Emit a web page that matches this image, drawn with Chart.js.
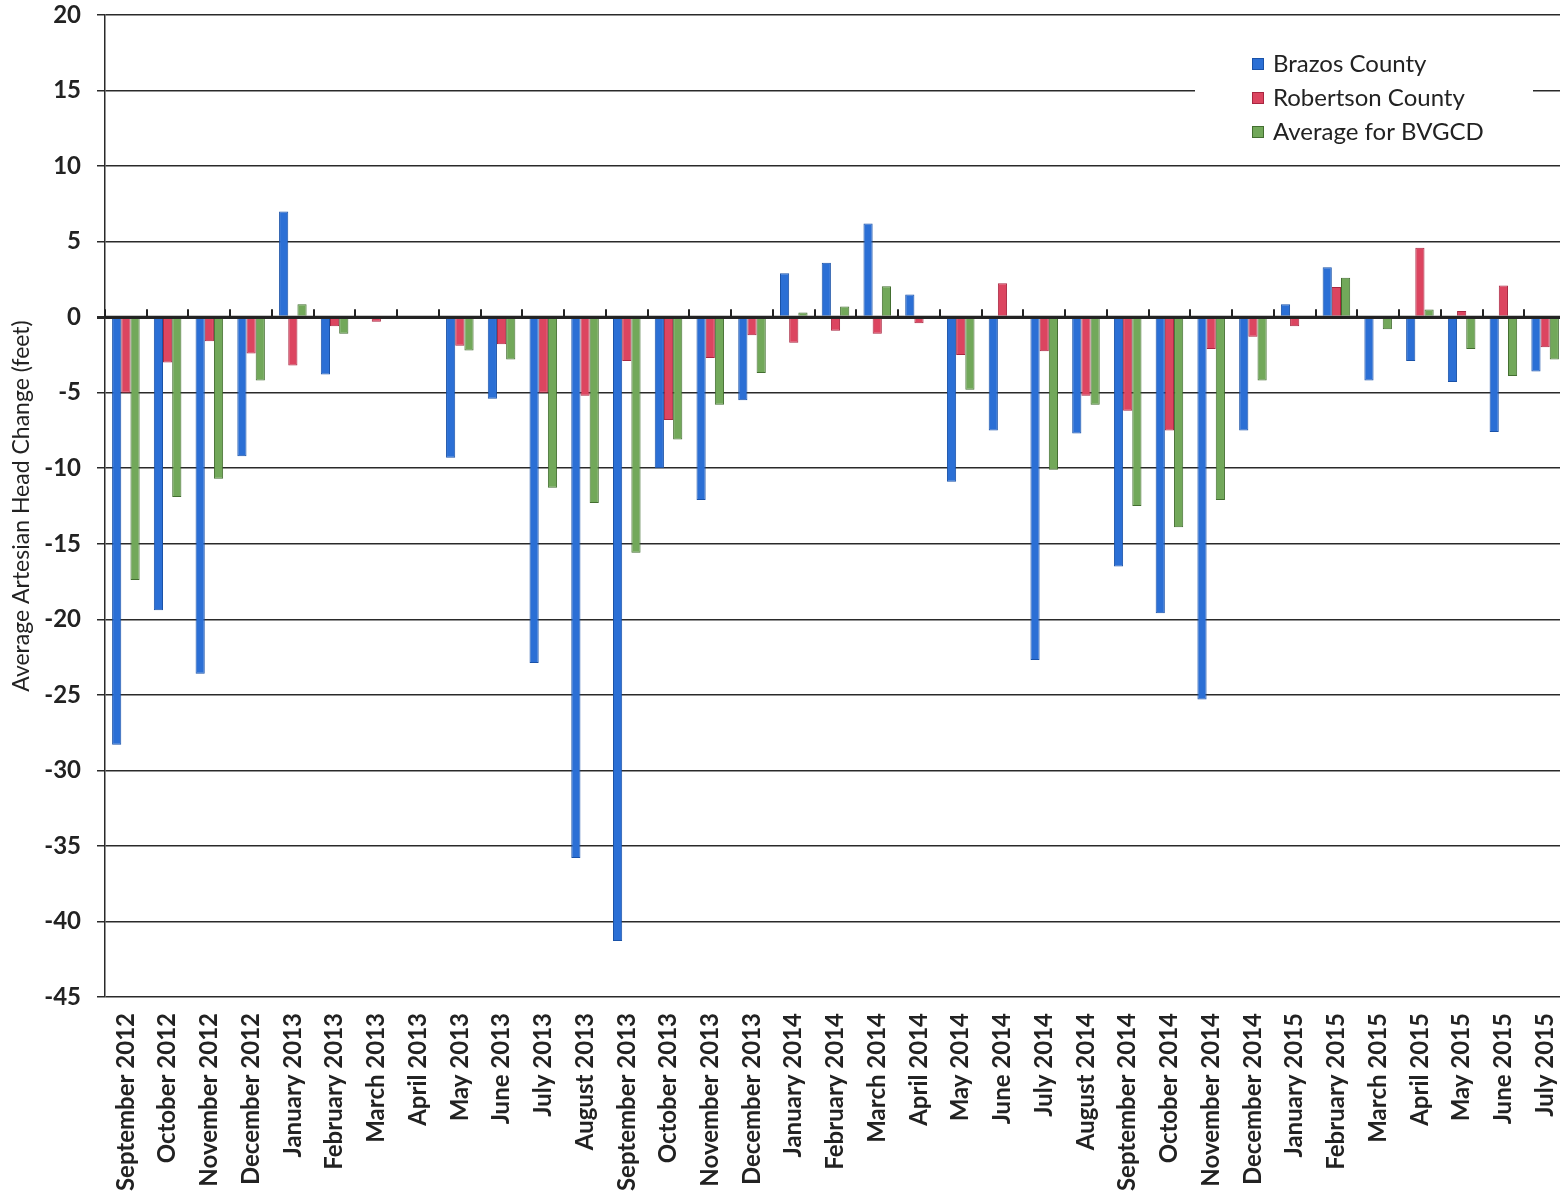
<!DOCTYPE html>
<html>
<head>
<meta charset="utf-8">
<script src="https://cdn.jsdelivr.net/npm/chart.js@4.4.1/dist/chart.umd.min.js"></script>
<style>
  html, body { margin: 0; padding: 0; background: #fff; overflow: hidden; }
  #wrap { position: absolute; left: 0; top: 0; width: 1575px; height: 1191px; }
</style>
</head>
<body>
<div id="wrap"><canvas id="chart" width="1575" height="1191"></canvas></div>
<script>
// months on the x axis
const months = [
  'September 2012','October 2012','November 2012','December 2012',
  'January 2013','February 2013','March 2013','April 2013','May 2013','June 2013',
  'July 2013','August 2013','September 2013','October 2013','November 2013','December 2013',
  'January 2014','February 2014','March 2014','April 2014','May 2014','June 2014',
  'July 2014','August 2014','September 2014','October 2014','November 2014','December 2014',
  'January 2015','February 2015','March 2015','April 2015','May 2015','June 2015','July 2015'
];

// average artesian head change (feet)
const brazos = [-28.3,-19.4,-23.6,-9.2, 7.0,-3.8,0,0,-9.3,-5.4, -22.9,-35.8,-41.3,-10.0,-12.1,-5.5,
  2.9,3.6,6.2,1.5,-10.9,-7.5, -22.7,-7.7,-16.5,-19.6,-25.3,-7.5, 0.85,3.3,-4.2,-2.9,-4.3,-7.6,-3.6];
const robertson = [-5.0,-3.0,-1.6,-2.4, -3.2,-0.6,-0.3,0,-1.9,-1.8, -5.0,-5.2,-2.9,-6.8,-2.7,-1.2,
  -1.7,-0.9,-1.1,-0.4,-2.5,2.25, -2.25,-5.2,-6.2,-7.5,-2.1,-1.3, -0.6,2.0,0,4.6,0.4,2.1,-2.0];
const average = [-17.4,-11.9,-10.7,-4.2, 0.85,-1.1,-0.1,0,-2.2,-2.8, -11.3,-12.3,-15.6,-8.1,-5.8,-3.7,
  0.3,0.7,2.05,0,-4.8,0, -10.1,-5.8,-12.5,-13.9,-12.1,-4.2, 0,2.6,-0.8,0.5,-2.1,-3.9,-2.8];

const yTicks = [20,15,10,5,0,-5,-10,-15,-20,-25,-30,-35,-40,-45];

Chart.defaults.font.family = 'Lato, "Open Sans", sans-serif';
Chart.defaults.color = '#222';

// zero line with its small tick marks, drawn over the bars
const zeroAxis = {
  id: 'zeroAxis',
  afterDatasetsDraw(chart) {
    const ctx = chart.ctx, x = chart.scales.x, y = chart.scales.y;
    const y0 = y.getPixelForValue(0);
    ctx.save();
    ctx.strokeStyle = '#222';
    ctx.lineWidth = 3;
    ctx.beginPath();
    ctx.moveTo(chart.chartArea.left, y0);
    ctx.lineTo(chart.chartArea.right, y0);
    ctx.stroke();
    ctx.lineWidth = 2;
    for (let i = 0; i <= months.length; i++) {
      const px = Math.round(x.getPixelForValue(i - 0.5));
      ctx.beginPath();
      ctx.moveTo(px, y0);
      ctx.lineTo(px, y0 - 8);
      ctx.stroke();
    }
    ctx.restore();
  }
};

// legend box in the top right corner
const boxLegend = {
  id: 'boxLegend',
  afterDraw(chart) {
    const ctx = chart.ctx;
    ctx.save();
    ctx.fillStyle = '#fff';
    ctx.fillRect(1195, 30, 338, 125);
    ctx.font = '24px Lato, "Open Sans", sans-serif';
    ctx.textBaseline = 'middle';
    chart.data.datasets.forEach((ds, i) => {
      const cy = 64 + i * 34;
      ctx.fillStyle = ds.backgroundColor;
      ctx.fillRect(1252, cy - 6, 12, 12);
      ctx.strokeStyle = ds.borderColor;
      ctx.lineWidth = 1;
      ctx.strokeRect(1252.5, cy - 5.5, 11, 11);
      ctx.fillStyle = '#222';
      ctx.fillText(ds.label, 1273, cy);
    });
    ctx.restore();
  }
};

new Chart(document.getElementById('chart').getContext('2d'), {
  type: 'bar',
  data: {
    labels: months,
    datasets: [
      { label: 'Brazos County', data: brazos, backgroundColor: '#2b6fd5', borderColor: '#1a52a8', borderWidth: 1 },
      { label: 'Robertson County', data: robertson, backgroundColor: '#dc4560', borderColor: '#a82640', borderWidth: 1 },
      { label: 'Average for BVGCD', data: average, backgroundColor: '#72a85a', borderColor: '#436e30', borderWidth: 1 }
    ]
  },
  options: {
    responsive: false,
    animation: false,
    layout: { padding: { top: 15, right: 9, left: 0, bottom: 0 } },
    plugins: { legend: { display: false }, tooltip: { enabled: false } },
    datasets: { bar: { categoryPercentage: 0.66, barPercentage: 1.0 } },
    scales: {
      x: {
        grid: { display: false },
        border: { display: false },
        ticks: {
          autoSkip: false, maxRotation: 90, minRotation: 90, padding: 8,
          font: { size: 24, weight: 'bold' }, color: '#222'
        },
        afterFit(scale) { scale.height = 194; scale.paddingLeft = 0; scale.paddingRight = 0; }
      },
      y: {
        min: -45, max: 20,
        afterBuildTicks(scale) { scale.ticks = yTicks.map(v => ({ value: v })); },
        grid: {
          color: '#2a2a2a',
          lineWidth: c => (c.tick && c.tick.value === 0 ? 3 : 1.5),
          tickLength: 8
        },
        border: { display: true, color: '#2a2a2a', width: 1.5 },
        ticks: { padding: 16, font: { size: 24, weight: 'bold' }, color: '#222' },
        title: {
          display: true, text: 'Average Artesian Head Change (feet)',
          font: { size: 23 }, color: '#222', padding: { top: 8, bottom: 0 }
        },
        afterFit(scale) { scale.width = 105; scale.paddingTop = 0; scale.paddingBottom = 0; }
      }
    }
  },
  plugins: [zeroAxis, boxLegend]
});
</script>
</body>
</html>
